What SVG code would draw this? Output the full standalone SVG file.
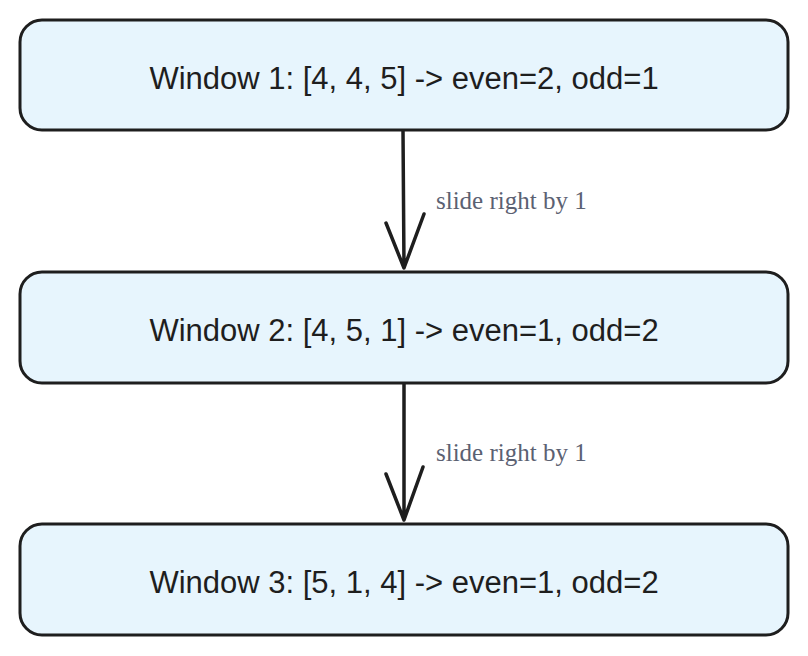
<svg xmlns="http://www.w3.org/2000/svg" width="808" height="656" viewBox="0 0 808 656">
<style>
.box{fill:#e7f5fd;stroke:#1e1e1e;stroke-width:3}
.t{font-family:"Liberation Sans",Arial,sans-serif;font-size:31px;fill:#1e1e1e;text-anchor:middle}
.c{stroke:#1e1e1e;stroke-width:3.5;fill:none;stroke-linecap:round;stroke-linejoin:round}
.l{font-family:"Liberation Serif","Times New Roman",serif;font-size:25px;fill:#5b6172}
</style>
<rect width="808" height="656" fill="#ffffff"/>
<g id="connectors">
<path class="c" d="M403 130 L404 268 M386 223 L404 268 L424 214"/>
<path class="c" d="M404 384 L404 520 M386 474 L404 520 L423 467"/>
<text class="l" x="436" y="209">slide right by 1</text>
<text class="l" x="436" y="461">slide right by 1</text>
</g>
<g id="n1"><rect class="box" x="20" y="20" width="768" height="110" rx="22"/><text class="t" x="404" y="89">Window 1: [4, 4, 5] -&gt; even=2, odd=1</text></g>
<g id="n2"><rect class="box" x="20" y="272" width="768" height="111" rx="22"/><text class="t" x="404" y="341">Window 2: [4, 5, 1] -&gt; even=1, odd=2</text></g>
<g id="n3"><rect class="box" x="20" y="524" width="768" height="111" rx="22"/><text class="t" x="404" y="593">Window 3: [5, 1, 4] -&gt; even=1, odd=2</text></g>
</svg>
